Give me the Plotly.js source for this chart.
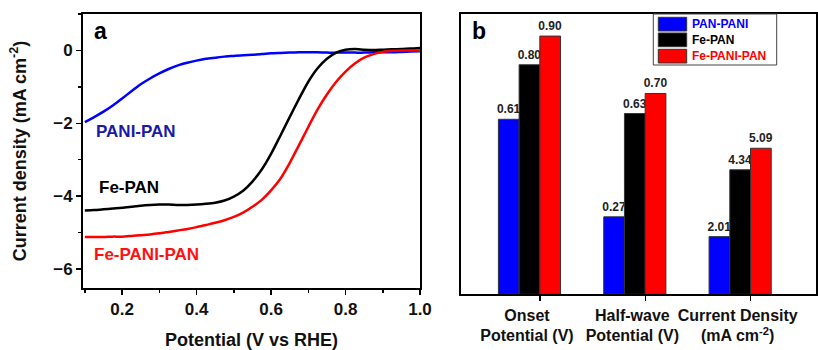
<!DOCTYPE html>
<html>
<head>
<meta charset="utf-8">
<script src="https://cdn.plot.ly/plotly-3.0.1.min.js"></script>
<style>
  html, body { margin: 0; padding: 0; background: #fff; }
  #chart { width: 818px; height: 350px; }
</style>
</head>
<body>
<div id="chart"></div>
<script>
// ---- Panel a: LSV curves ----
const potential = [0.1, 0.125, 0.15, 0.175, 0.2, 0.225, 0.25, 0.275, 0.3, 0.325, 0.35, 0.375, 0.4, 0.425, 0.45, 0.475, 0.5, 0.525, 0.55, 0.575, 0.6, 0.625, 0.65, 0.675, 0.7, 0.725, 0.75, 0.775, 0.8, 0.825, 0.85, 0.875, 0.9, 0.925, 0.95, 0.975, 1.0];
const paniPan   = [-1.97, -1.83, -1.68, -1.51, -1.32, -1.12, -0.93, -0.77, -0.63, -0.51, -0.41, -0.34, -0.28, -0.23, -0.20, -0.17, -0.15, -0.13, -0.12, -0.10, -0.08, -0.07, -0.06, -0.05, -0.05, -0.05, -0.06, -0.06, -0.06, -0.06, -0.06, -0.05, -0.05, -0.05, -0.04, -0.03, -0.02];
const fePan     = [-4.39, -4.38, -4.36, -4.34, -4.32, -4.29, -4.26, -4.24, -4.23, -4.23, -4.24, -4.24, -4.23, -4.21, -4.18, -4.12, -4.01, -3.85, -3.60, -3.27, -2.84, -2.34, -1.83, -1.33, -0.86, -0.49, -0.23, -0.06, 0.02, 0.04, 0.02, 0.01, 0.02, 0.03, 0.04, 0.05, 0.07];
const fePaniPan = [-5.12, -5.12, -5.12, -5.11, -5.11, -5.09, -5.07, -5.05, -5.02, -4.98, -4.94, -4.90, -4.85, -4.79, -4.73, -4.66, -4.57, -4.45, -4.29, -4.10, -3.84, -3.52, -3.09, -2.60, -2.10, -1.62, -1.21, -0.86, -0.58, -0.36, -0.20, -0.10, -0.04, -0.01, 0.00, 0.00, 0.00];
const curveNames  = ['PANI-PAN', 'Fe-PAN', 'Fe-PANI-PAN'];
const curveColors = ['#0000ff', '#000000', '#ff0000'];
const curveLabelColors = ['#1a1aa8', '#000000', '#ff1010'];

// ---- Panel b: grouped bars ----
const categories = ['Onset<br>Potential (V)', 'Half-wave<br>Potential (V)', 'Current Density<br>(mA cm<sup>-2</sup>)'];
const seriesNames = ['PAN-PANI', 'Fe-PAN', 'Fe-PANI-PAN'];
const barPanPani   = [0.61, 0.27, 2.01];
const barFePan     = [0.80, 0.63, 4.34];
const barFePaniPan = [0.90, 0.70, 5.09];
const heightScale  = [1, 1, 0.1];   // current density drawn at 1/10 scale, as in the figure
const barColors = ['#0000ff', '#000000', '#ff0000'];

const W = 818, H = 350;
const px = x => x / W;
const py = y => 1 - y / H;
const FONT = 'Liberation Sans, Arial, Helvetica, sans-serif';

const traces = [];
[paniPan, fePan, fePaniPan].forEach((ys, k) => {
  traces.push({
    type: 'scatter', mode: 'lines', x: potential, y: ys, name: curveNames[k],
    xaxis: 'x', yaxis: 'y', showlegend: false, hoverinfo: 'skip',
    line: { color: curveColors[k], width: 2.5, shape: 'spline', smoothing: 0.6 }
  });
});
const catIdx = categories.map((c, i) => i);
[barPanPani, barFePan, barFePaniPan].forEach((vals, k) => {
  traces.push({
    type: 'bar', x: catIdx, y: vals.map((v, i) => v * heightScale[i]), name: seriesNames[k],
    xaxis: 'x2', yaxis: 'y2', showlegend: false, hoverinfo: 'skip',
    marker: { color: barColors[k], line: { color: '#333', width: 1 } },
    text: vals.map(v => v.toFixed(2)), textposition: 'outside', cliponaxis: false,
    constraintext: 'none',
    textfont: { family: FONT, size: 12, color: '#222', weight: 'bold' }
  });
});

const axisCommon = {
  showline: true, mirror: true, linecolor: '#000', linewidth: 2,
  showgrid: false, zeroline: false, ticks: 'outside', tickcolor: '#000', tickwidth: 1.5, ticklen: 5,
  tickfont: { family: FONT, size: 17, color: '#111', weight: 'bold' }
};

const annotations = [];
// curve labels
const curveLabelPos = [[0.124, -2.23], [0.132, -3.77], [0.119, -5.59]];
curveNames.forEach((n, k) => annotations.push({
  xref: 'x', yref: 'y', x: curveLabelPos[k][0], y: curveLabelPos[k][1], text: n,
  showarrow: false, xanchor: 'left', yanchor: 'middle',
  font: { family: FONT, size: 17, color: curveLabelColors[k], weight: 'bold' }
}));
// panel letters
annotations.push({ xref: 'paper', yref: 'paper', x: px(92), y: py(31), text: 'a', showarrow: false,
  xanchor: 'left', yanchor: 'middle', font: { family: FONT, size: 23, color: '#000', weight: 'bold' } });
annotations.push({ xref: 'paper', yref: 'paper', x: px(470), y: py(31), text: 'b', showarrow: false,
  xanchor: 'left', yanchor: 'middle', font: { family: FONT, size: 23, color: '#000', weight: 'bold' } });

// manual legend for panel b
const shapes = [];
shapes.push({ type: 'rect', xref: 'paper', yref: 'paper', x0: px(653.3), x1: px(776.7), y0: py(65), y1: py(14),
  line: { color: '#444', width: 1 }, fillcolor: 'rgba(255,255,255,0)' });
const swTop = [17.3, 33, 49.3];
seriesNames.forEach((n, k) => {
  shapes.push({ type: 'rect', xref: 'paper', yref: 'paper', x0: px(658.3), x1: px(686.7),
    y0: py(swTop[k] + 13.7), y1: py(swTop[k]), fillcolor: barColors[k], line: { color: '#333', width: 1 } });
  annotations.push({ xref: 'paper', yref: 'paper', x: px(690), y: py(swTop[k] + 7), text: n,
    showarrow: false, xanchor: 'left', yanchor: 'middle',
    font: { family: FONT, size: 12, color: barColors[k], weight: 'bold' } });
});

const layout = {
  width: W, height: H, margin: { l: 0, r: 0, t: 0, b: 0 },
  paper_bgcolor: '#fff', plot_bgcolor: '#fff',
  font: { family: FONT, color: '#111' },
  barmode: 'group', bargap: 0.41, bargroupgap: 0,
  xaxis: Object.assign({}, axisCommon, {
    domain: [px(83), px(420)], anchor: 'y', range: [0.095, 1.0],
    tick0: 0, dtick: 0.2, tickformat: '.1f',
    minor: { ticks: 'outside', ticklen: 3, dtick: 0.1, tick0: 0, tickcolor: '#000', tickwidth: 1.5, showgrid: false },
    title: { text: 'Potential (V vs RHE)', font: { family: FONT, size: 18, color: '#111', weight: 'bold' } }
  }),
  yaxis: Object.assign({}, axisCommon, {
    domain: [py(288), py(14)], anchor: 'x', range: [-6.52, 1.0],
    tick0: 0, dtick: 2,
    minor: { ticks: 'outside', ticklen: 3, dtick: 1, tick0: 0, tickcolor: '#000', tickwidth: 1.5, showgrid: false },
    title: { text: 'Current density (mA cm<sup>-2</sup>)', standoff: 22,
             font: { family: FONT, size: 18, color: '#111', weight: 'bold' } }
  }),
  xaxis2: Object.assign({}, axisCommon, {
    domain: [px(461), px(816)], anchor: 'y2', range: [-0.65, 2.72],
    tickmode: 'array', tickvals: catIdx.map(i => i + 0.1), ticktext: categories,
    tickangle: 0, ticklabelshift: -13,
    tickfont: { family: FONT, size: 16, color: '#111', weight: 'bold' }
  }),
  yaxis2: Object.assign({}, axisCommon, {
    domain: [py(294.3), py(14)], anchor: 'x2', range: [0, 0.977],
    ticks: '', showticklabels: false
  }),
  shapes: shapes,
  annotations: annotations
};

Plotly.newPlot('chart', traces, layout, { staticPlot: true, displayModeBar: false });
</script>
</body>
</html>
